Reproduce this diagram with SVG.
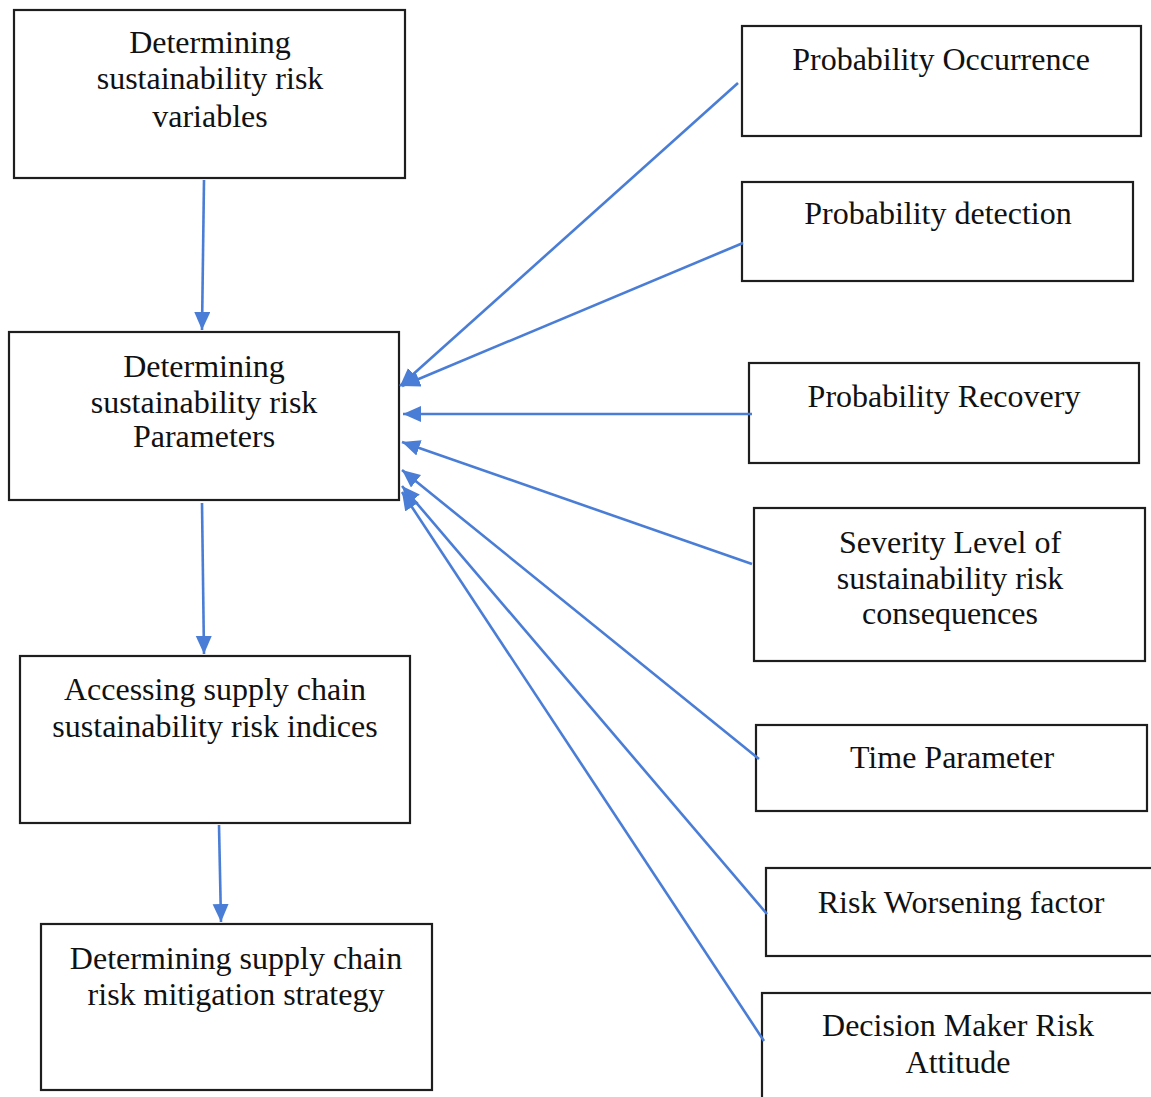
<svg xmlns="http://www.w3.org/2000/svg" width="1151" height="1097" viewBox="0 0 1151 1097">
  <style>
    .box { fill: #ffffff; stroke: #1e1e1e; stroke-width: 2.2; }
    .lbl { font-family: "Liberation Serif", "Times New Roman", serif; font-size: 32px; fill: #111; text-anchor: middle; }
    .conn { stroke: #4a7dd6; stroke-width: 2.6; fill: none; marker-end: url(#arr); }
  </style>
  <defs>
    <marker id="arr" markerUnits="userSpaceOnUse" markerWidth="20" markerHeight="18" refX="18" refY="8" orient="auto">
      <path d="M0,0 L18,8 L0,16 Z" fill="#4a7dd6"/>
    </marker>
  </defs>
  <rect width="1151" height="1097" fill="#ffffff"/>

  <g id="n-variables">
    <rect class="box" x="14" y="10" width="391" height="168"/>
    <text class="lbl" x="210" y="53">Determining</text>
    <text class="lbl" x="210" y="89">sustainability risk</text>
    <text class="lbl" x="210" y="127">variables</text>
  </g>
  <g id="n-parameters">
    <rect class="box" x="9" y="332" width="390" height="168"/>
    <text class="lbl" x="204" y="377">Determining</text>
    <text class="lbl" x="204" y="413">sustainability risk</text>
    <text class="lbl" x="204" y="447">Parameters</text>
  </g>
  <g id="n-indices">
    <rect class="box" x="20" y="656" width="390" height="167"/>
    <text class="lbl" x="215" y="700">Accessing supply chain</text>
    <text class="lbl" x="215" y="737">sustainability risk indices</text>
  </g>
  <g id="n-mitigation">
    <rect class="box" x="41" y="924" width="391" height="166"/>
    <text class="lbl" x="236" y="969">Determining supply chain</text>
    <text class="lbl" x="236" y="1005">risk mitigation strategy</text>
  </g>

  <g id="n-occurrence">
    <rect class="box" x="742" y="26" width="399" height="110"/>
    <text class="lbl" x="941" y="70">Probability Occurrence</text>
  </g>
  <g id="n-detection">
    <rect class="box" x="742" y="182" width="391" height="99"/>
    <text class="lbl" x="938" y="224">Probability detection</text>
  </g>
  <g id="n-recovery">
    <rect class="box" x="749" y="363" width="390" height="100"/>
    <text class="lbl" x="944" y="407">Probability Recovery</text>
  </g>
  <g id="n-severity">
    <rect class="box" x="754" y="508" width="391" height="153"/>
    <text class="lbl" x="950" y="553">Severity Level of</text>
    <text class="lbl" x="950" y="589">sustainability risk</text>
    <text class="lbl" x="950" y="624">consequences</text>
  </g>
  <g id="n-time">
    <rect class="box" x="756" y="725" width="391" height="86"/>
    <text class="lbl" x="952" y="768">Time Parameter</text>
  </g>
  <g id="n-worsening">
    <rect class="box" x="766" y="868" width="392" height="88"/>
    <text class="lbl" x="961" y="913">Risk Worsening factor</text>
  </g>
  <g id="n-attitude">
    <rect class="box" x="762" y="993" width="396" height="110"/>
    <text class="lbl" x="958" y="1036">Decision Maker Risk</text>
    <text class="lbl" x="958" y="1073">Attitude</text>
  </g>

  <g id="connectors">
    <line class="conn" x1="204" y1="180" x2="202" y2="330"/>
    <line class="conn" x1="202" y1="503" x2="204" y2="654"/>
    <line class="conn" x1="219" y1="825" x2="221" y2="922"/>
    <line class="conn" x1="738" y1="83" x2="400" y2="386"/>
    <line class="conn" x1="743" y1="243" x2="402" y2="386"/>
    <line class="conn" x1="752" y1="414" x2="403" y2="414"/>
    <line class="conn" x1="752" y1="564" x2="402" y2="442"/>
    <line class="conn" x1="759" y1="759" x2="402" y2="470"/>
    <line class="conn" x1="767" y1="914" x2="402" y2="486"/>
    <line class="conn" x1="764" y1="1041" x2="402" y2="492"/>
  </g>
</svg>
